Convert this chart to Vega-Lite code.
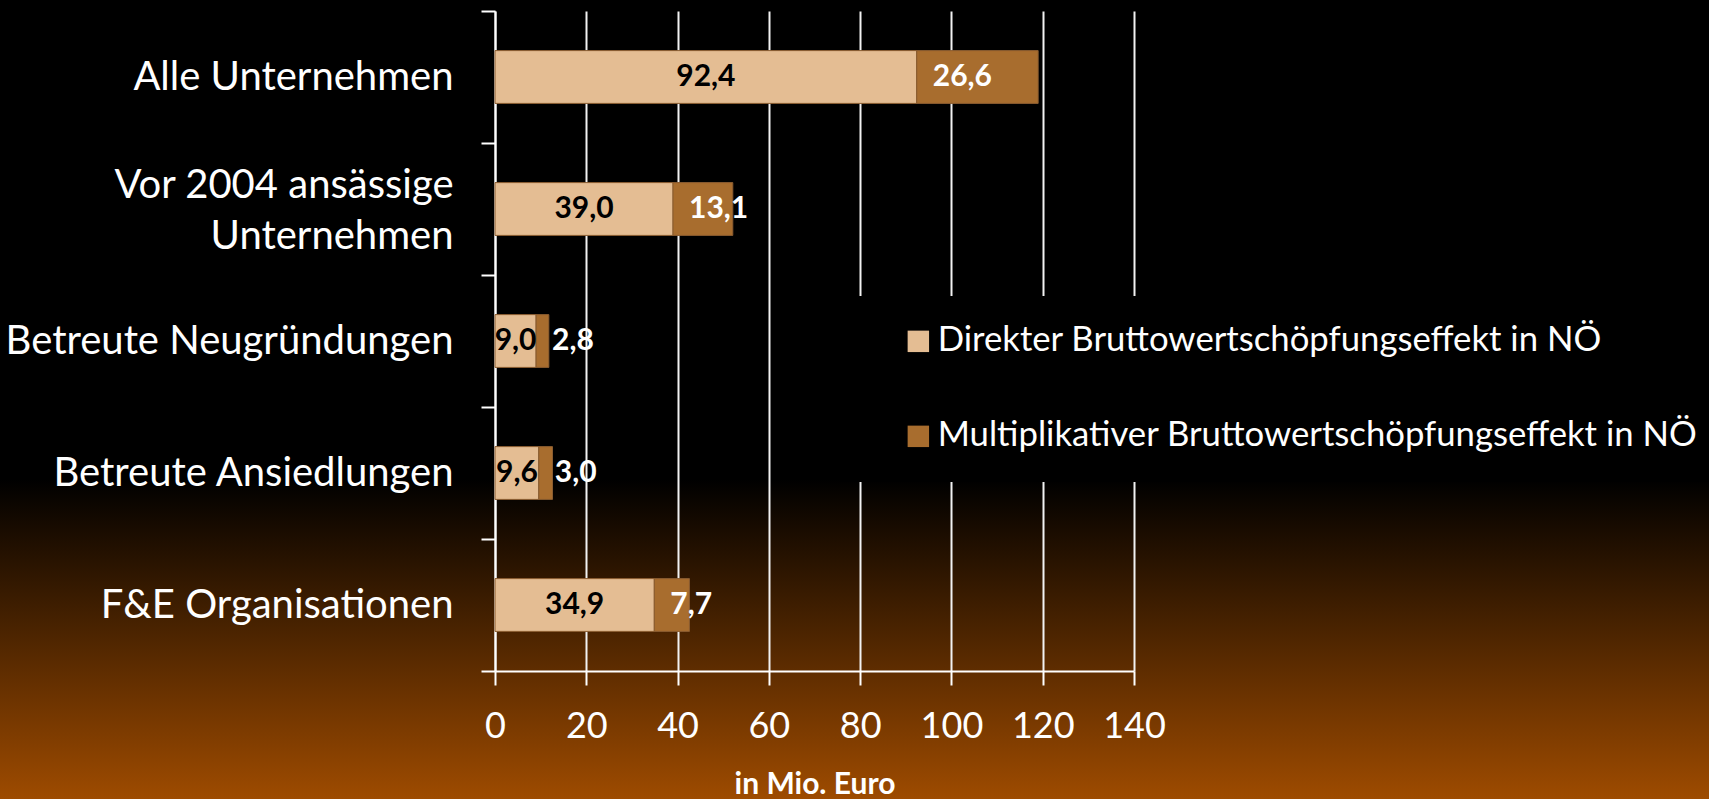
{
  "$schema": "https://vega.github.io/schema/vega-lite/v6.json",
  "width": 1709,
  "height": 799,
  "autosize": {"type": "none"},
  "padding": 0,
  "background": "#000000",
  "config": {
    "locale": {"number": {"decimal": ",", "thousands": ".", "grouping": [3], "currency": ["", " €"]}},
    "view": {
      "stroke": null,
      "fill": {
        "gradient": "linear", "x1": 0, "y1": 0, "x2": 0, "y2": 1,
        "stops": [
          {"offset": 0, "color": "#000000"},
          {"offset": 0.6, "color": "#000000"},
          {"offset": 1, "color": "#9e4b00"}
        ]
      }
    },
    "font": "Lato"
  },
  "data": {
    "values": [
      {"Kategorie": "Alle Unternehmen", "Effekt": "Direkter Bruttowertschöpfungseffekt in NÖ", "Wert": 92.4},
      {"Kategorie": "Alle Unternehmen", "Effekt": "Multiplikativer Bruttowertschöpfungseffekt in NÖ", "Wert": 26.6},
      {"Kategorie": "Vor 2004 ansässige Unternehmen", "Effekt": "Direkter Bruttowertschöpfungseffekt in NÖ", "Wert": 39.0},
      {"Kategorie": "Vor 2004 ansässige Unternehmen", "Effekt": "Multiplikativer Bruttowertschöpfungseffekt in NÖ", "Wert": 13.1},
      {"Kategorie": "Betreute Neugründungen", "Effekt": "Direkter Bruttowertschöpfungseffekt in NÖ", "Wert": 9.0},
      {"Kategorie": "Betreute Neugründungen", "Effekt": "Multiplikativer Bruttowertschöpfungseffekt in NÖ", "Wert": 2.8},
      {"Kategorie": "Betreute Ansiedlungen", "Effekt": "Direkter Bruttowertschöpfungseffekt in NÖ", "Wert": 9.6},
      {"Kategorie": "Betreute Ansiedlungen", "Effekt": "Multiplikativer Bruttowertschöpfungseffekt in NÖ", "Wert": 3.0},
      {"Kategorie": "F&E Organisationen", "Effekt": "Direkter Bruttowertschöpfungseffekt in NÖ", "Wert": 34.9},
      {"Kategorie": "F&E Organisationen", "Effekt": "Multiplikativer Bruttowertschöpfungseffekt in NÖ", "Wert": 7.7}
    ]
  },
  "transform": [
    {"stack": "Wert", "groupby": ["Kategorie"], "sort": [{"field": "Effekt", "order": "ascending"}], "as": ["x0", "x1"]},
    {"calculate": "(datum.x0 + datum.x1) / 2", "as": "xmid"}
  ],
  "encoding": {
    "y": {
      "field": "Kategorie",
      "type": "nominal",
      "sort": ["Alle Unternehmen", "Vor 2004 ansässige Unternehmen", "Betreute Neugründungen", "Betreute Ansiedlungen", "F&E Organisationen"],
      "scale": {"range": [11, 671], "paddingInner": 0, "paddingOuter": 0},
      "axis": {
        "title": null,
        "orient": "left",
        "offset": -495,
        "domainColor": "#ffffff",
        "domainWidth": 2,
        "tickBand": "extent",
        "tickColor": "#ffffff",
        "tickWidth": 2,
        "tickSize": 14,
        "labelColor": "#ffffff",
        "labelFont": "Lato",
        "labelFontSize": 40,
        "labelPadding": 28,
        "labelLimit": 0,
        "labelLineHeight": 51,
        "labelOffset": {"condition": {"test": "datum.label == 'Vor 2004 ansässige Unternehmen'", "value": -24}, "value": 0},
        "labelExpr": "datum.label == 'Vor 2004 ansässige Unternehmen' ? ['Vor 2004 ansässige', 'Unternehmen'] : datum.label",
        "grid": false
      }
    }
  },
  "resolve": {"axis": {"x": "independent"}},
  "layer": [
    {
      "mark": {"type": "bar", "stroke": "#8a5c30", "strokeWidth": 1, "height": {"band": 0.4}},
      "encoding": {
        "x": {
          "field": "x0",
          "type": "quantitative",
          "scale": {"domain": [0, 140], "range": [495, 1134], "nice": false},
          "axis": {
            "values": [0, 20, 40, 60, 80, 100, 120, 140],
            "orient": "top",
            "grid": true,
            "gridColor": "#f2f2f2",
            "gridWidth": 2,
            "gridOpacity": 1,
            "domain": false,
            "ticks": false,
            "labels": false,
            "title": null
          }
        },
        "x2": {"field": "x1"},
        "color": {
          "field": "Effekt",
          "type": "nominal",
          "scale": {
            "domain": ["Direkter Bruttowertschöpfungseffekt in NÖ", "Multiplikativer Bruttowertschöpfungseffekt in NÖ"],
            "range": ["#e4bd93", "#a86d2e"]
          },
          "legend": {
            "title": null,
            "orient": "none",
            "legendX": 840,
            "legendY": 296,
            "fillColor": "#000000",
            "padding": 28,
            "symbolType": "square",
            "symbolSize": 460,
            "symbolStrokeWidth": 0,
            "symbolOffset": 33,
            "labelFont": "Lato",
            "labelFontSize": 34.7,
            "labelColor": "#ffffff",
            "labelOffset": 2,
            "labelLimit": 0,
            "rowPadding": 59
          }
        }
      }
    },
    {
      "transform": [{"filter": "datum.Effekt == 'Direkter Bruttowertschöpfungseffekt in NÖ'"}],
      "mark": {"type": "text", "font": "Lato", "fontSize": 30, "fontWeight": "bold", "color": "#000000", "align": "center", "baseline": "middle"},
      "encoding": {
        "x": {
          "field": "xmid",
          "type": "quantitative",
          "axis": {
            "values": [0, 20, 40, 60, 80, 100, 120, 140],
            "orient": "bottom",
            "offset": -128,
            "grid": false,
            "domainColor": "#ffffff",
            "domainWidth": 2,
            "tickColor": "#ffffff",
            "tickWidth": 2,
            "tickSize": 14,
            "labelColor": "#ffffff",
            "labelFont": "Lato",
            "labelFontSize": 36,
            "labelPadding": 24,
            "labelFlush": false,
            "title": "in Mio. Euro",
            "titleColor": "#ffffff",
            "titleFont": "Lato",
            "titleFontSize": 30,
            "titleFontWeight": "bold",
            "titlePadding": 25
          }
        },
        "text": {"field": "Wert", "type": "quantitative", "format": ".1f"}
      }
    },
    {
      "transform": [{"filter": "datum.Effekt == 'Multiplikativer Bruttowertschöpfungseffekt in NÖ'"}],
      "mark": {"type": "text", "font": "Lato", "fontSize": 30, "fontWeight": "bold", "color": "#ffffff", "align": "left", "baseline": "middle", "dx": 16},
      "encoding": {
        "x": {"field": "x0", "type": "quantitative", "axis": null},
        "text": {"field": "Wert", "type": "quantitative", "format": ".1f"}
      }
    }
  ]
}
